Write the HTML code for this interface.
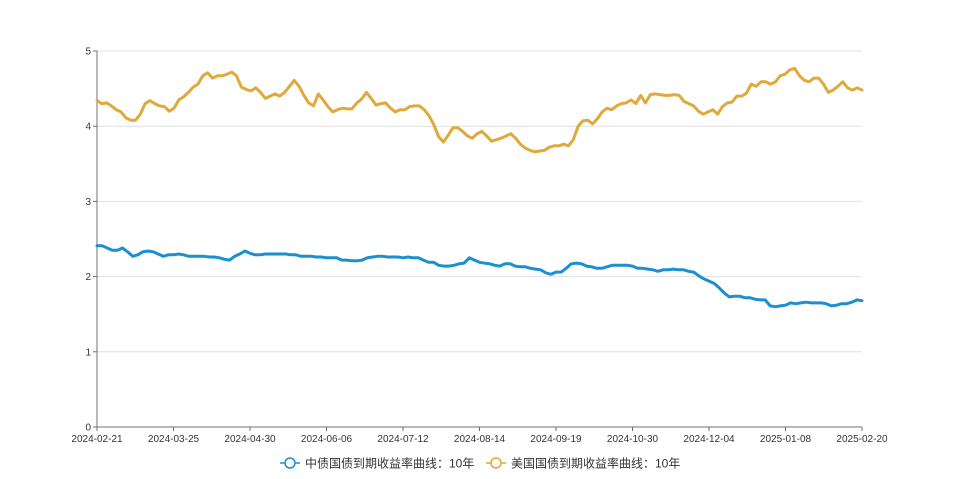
<!DOCTYPE html>
<html><head><meta charset="utf-8">
<style>
html,body{margin:0;padding:0;background:#fff;width:959px;height:479px;overflow:hidden}
svg text{font-family:"Liberation Sans","Noto Sans CJK SC",sans-serif}
</style></head>
<body>
<svg id="chart" width="959" height="479"></svg>
<script>
const xTickLabels=["2024-02-21","2024-03-25","2024-04-30","2024-06-06","2024-07-12","2024-08-14","2024-09-19","2024-10-30","2024-12-04","2025-01-08","2025-02-20"];
const yTickValues=[0,1,2,3,4,5];
const seriesNames=["中债国债到期收益率曲线：10年","美国国债到期收益率曲线：10年"];
const usYield=[4.34,4.30,4.31,4.27,4.22,4.19,4.11,4.08,4.08,4.16,4.30,4.34,4.30,4.27,4.26,4.20,4.24,4.35,4.39,4.45,4.52,4.56,4.67,4.71,4.64,4.67,4.67,4.69,4.72,4.67,4.52,4.49,4.47,4.51,4.45,4.37,4.40,4.43,4.40,4.45,4.53,4.61,4.53,4.41,4.31,4.27,4.43,4.35,4.26,4.19,4.22,4.24,4.23,4.23,4.31,4.36,4.45,4.37,4.28,4.30,4.31,4.24,4.19,4.22,4.22,4.26,4.27,4.27,4.22,4.14,4.02,3.86,3.79,3.88,3.98,3.98,3.93,3.87,3.84,3.90,3.93,3.87,3.80,3.82,3.84,3.87,3.90,3.84,3.76,3.71,3.68,3.66,3.67,3.68,3.72,3.74,3.74,3.76,3.74,3.82,4.00,4.07,4.08,4.03,4.10,4.19,4.24,4.22,4.27,4.30,4.31,4.35,4.30,4.41,4.31,4.42,4.43,4.42,4.41,4.41,4.42,4.41,4.33,4.30,4.27,4.20,4.16,4.19,4.22,4.16,4.26,4.31,4.32,4.40,4.40,4.44,4.56,4.53,4.59,4.59,4.56,4.59,4.67,4.69,4.75,4.77,4.67,4.61,4.59,4.64,4.64,4.56,4.45,4.48,4.53,4.59,4.51,4.48,4.51,4.48];
const cnYield=[2.41,2.41,2.38,2.35,2.35,2.38,2.33,2.27,2.29,2.33,2.34,2.33,2.30,2.27,2.29,2.29,2.30,2.29,2.27,2.27,2.27,2.27,2.26,2.26,2.25,2.23,2.22,2.27,2.30,2.34,2.31,2.29,2.29,2.30,2.30,2.30,2.30,2.30,2.29,2.29,2.27,2.27,2.27,2.26,2.26,2.25,2.25,2.25,2.22,2.22,2.21,2.21,2.22,2.25,2.26,2.27,2.27,2.26,2.26,2.26,2.25,2.26,2.25,2.25,2.22,2.19,2.19,2.15,2.14,2.14,2.15,2.17,2.18,2.25,2.22,2.19,2.18,2.17,2.15,2.14,2.17,2.17,2.14,2.13,2.13,2.11,2.10,2.09,2.05,2.03,2.06,2.06,2.11,2.17,2.18,2.17,2.14,2.13,2.11,2.11,2.13,2.15,2.15,2.15,2.15,2.14,2.11,2.11,2.10,2.09,2.07,2.09,2.09,2.10,2.09,2.09,2.07,2.06,2.01,1.97,1.94,1.91,1.85,1.78,1.73,1.74,1.74,1.72,1.72,1.70,1.69,1.69,1.61,1.60,1.61,1.62,1.65,1.64,1.65,1.66,1.65,1.65,1.65,1.64,1.61,1.62,1.64,1.64,1.66,1.69,1.68];

const NS="http://www.w3.org/2000/svg";
const svg=document.getElementById('chart');
const X0=97,X1=862,Y0=427,Y1=51;
const yScale=v=>Y0-(v-0)/(5-0)*(Y0-Y1);
const xScale=(i,n)=>X0+i/(n-1)*(X1-X0);
function mk(tag,attrs){const e=document.createElementNS(NS,tag);for(const k in attrs)e.setAttribute(k,attrs[k]);svg.appendChild(e);return e;}

yTickValues.forEach(v=>{
  const y=yScale(v);
  if(v>0){const g=mk('line',{x1:X0,x2:X1,y1:y,y2:y,stroke:'#e0e0e0','stroke-width':1});
  
  }
  const t=mk('line',{x1:X0-4,x2:X0,y1:y,y2:y,stroke:'#6e7079'});
  
  
  const l=mk('text',{x:X0-6,y:y+3.5,'text-anchor':'end','font-size':10,fill:'#333'});
  l.textContent=v;
  
  
});
const ya=mk('line',{x1:X0,x2:X0,y1:Y1,y2:Y0,stroke:'#6e7079'});


const xa=mk('line',{x1:X0,x2:X1,y1:Y0,y2:Y0,stroke:'#6e7079'});


xTickLabels.forEach((s,i)=>{
  const x=xScale(i,xTickLabels.length);
  const t=mk('line',{x1:x,x2:x,y1:Y0,y2:Y0+4,stroke:'#6e7079'});
  
  
  const l=mk('text',{x:x,y:Y0+15,'text-anchor':'middle','font-size':10,fill:'#333'});
  l.textContent=s;
  
  
});
function drawLine(arr,color,name){
  const d=arr.map((v,i)=>(i?'L':'M')+xScale(i,arr.length).toFixed(1)+','+yScale(v).toFixed(1)).join('');
  const p=mk('path',{d:d,fill:'none',stroke:color,'stroke-width':3,'stroke-linejoin':'round','stroke-linecap':'round'});
  
  
}
drawLine(usYield,'#e0a93b','us-10y-line');
drawLine(cnYield,'#1b8fd0','cn-10y-line');

// legend
const legend=[{x:280,c:'#1b8fd0',n:seriesNames[0]},{x:486,c:'#e0a93b',n:seriesNames[1]}];
legend.forEach((it,i)=>{
  const y=463;
  const ln=mk('line',{x1:it.x,x2:it.x+20,y1:y,y2:y,stroke:it.c,'stroke-width':1.5});
  
  
  const c=mk('circle',{cx:it.x+10,cy:y,r:5,fill:'#fff',stroke:it.c,'stroke-width':1.5});
  
  
  const t=mk('text',{x:it.x+25,y:y+4.5,'font-size':12,fill:'#333'});
  t.textContent=it.n;
  
  
});
</script>
</body></html>
